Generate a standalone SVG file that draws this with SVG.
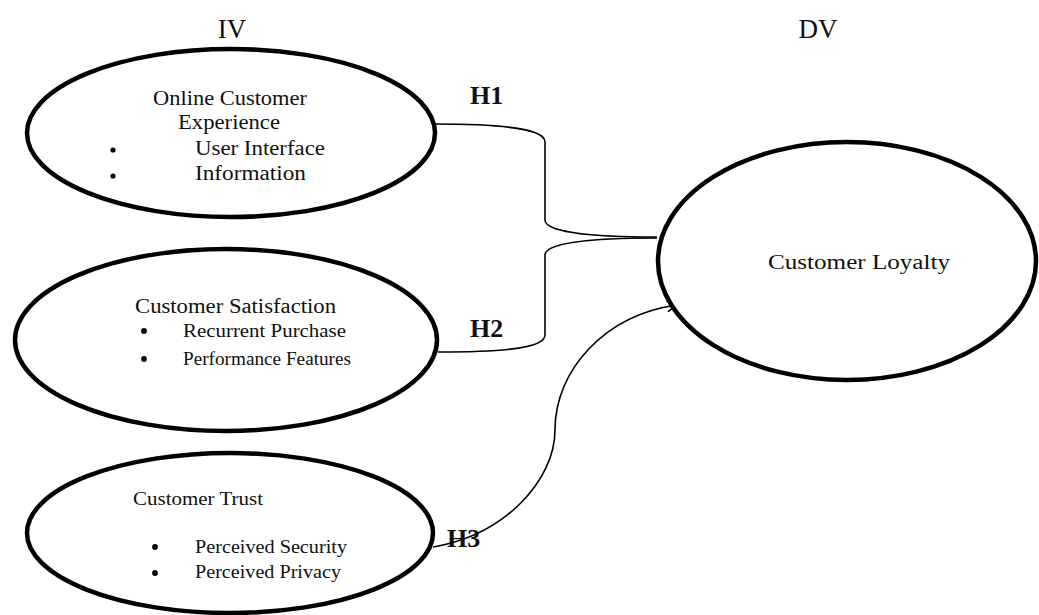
<svg xmlns="http://www.w3.org/2000/svg" width="1039" height="615" viewBox="0 0 1039 615">
<style>
.node{fill:#fff;stroke:#000;stroke-width:4.5}
.conn{fill:none;stroke:#000;stroke-width:1.6}
.dot{fill:#000}
text{font-family:"Liberation Serif","Times New Roman",serif;fill:#111}
.hd{font-size:27px}
.lb{font-size:20.5px}
.sm{font-size:19.5px}
.xs{font-size:18px}
.h{font-size:26px;font-weight:bold}
</style>
<defs>
<marker id="arr" viewBox="0 0 12 12" refX="11" refY="6" markerWidth="12" markerHeight="12" markerUnits="userSpaceOnUse" orient="auto">
<path d="M1,0.5 L11,6 L1,11.5" fill="none" stroke="#000" stroke-width="1.6"/>
</marker>
</defs>
<rect width="1039" height="615" fill="#fff"/>
<text class="hd" x="232" y="38" text-anchor="middle">IV</text>
<text class="hd" x="818" y="38" text-anchor="middle">DV</text>
<g id="connectors">
<path class="conn" d="M434,124 C505,124 545,129 545,142 L545,220 C545,232 590,237 657,237"/>
<path class="conn" d="M438,352 C505,352 545,348 545,335 L545,255 C545,243 590,238 657,238"/>
<path class="conn" d="M433,547 C505,535 555,480 555,430 C555,370 605,315 677,305" marker-end="url(#arr)"/>
<text class="h" x="470" y="104">H1</text>
<text class="h" x="470" y="337">H2</text>
<text class="h" x="447" y="547">H3</text>
</g>
<g id="n1">
<ellipse class="node" cx="231" cy="133" rx="204" ry="84"/>
<text class="lb" x="153" y="105" textLength="154" lengthAdjust="spacingAndGlyphs">Online Customer</text>
<text class="lb" x="178" y="129" textLength="102" lengthAdjust="spacingAndGlyphs">Experience</text>
<circle class="dot" cx="113" cy="150" r="2.6"/>
<text class="lb" x="195" y="155" textLength="130" lengthAdjust="spacingAndGlyphs">User Interface</text>
<circle class="dot" cx="113" cy="176" r="2.6"/>
<text class="lb" x="195" y="180" textLength="111" lengthAdjust="spacingAndGlyphs">Information</text>
</g>
<g id="n2">
<ellipse class="node" cx="226" cy="340" rx="211" ry="91"/>
<text class="lb" x="135" y="313" textLength="201" lengthAdjust="spacingAndGlyphs">Customer Satisfaction</text>
<circle class="dot" cx="144" cy="331" r="2.9"/>
<text class="xs" x="183" y="337" textLength="163" lengthAdjust="spacingAndGlyphs">Recurrent Purchase</text>
<circle class="dot" cx="144" cy="359" r="2.9"/>
<text class="xs" x="183" y="365" textLength="168" lengthAdjust="spacingAndGlyphs">Performance Features</text>
</g>
<g id="n3">
<ellipse class="node" cx="230" cy="533" rx="203" ry="80"/>
<text class="xs" x="133" y="505" textLength="130" lengthAdjust="spacingAndGlyphs">Customer Trust</text>
<circle class="dot" cx="155" cy="547" r="2.9"/>
<text class="sm" x="195" y="553" textLength="152" lengthAdjust="spacingAndGlyphs">Perceived Security</text>
<circle class="dot" cx="155" cy="573" r="2.9"/>
<text class="sm" x="195" y="578" textLength="146" lengthAdjust="spacingAndGlyphs">Perceived Privacy</text>
</g>
<g id="n4">
<ellipse class="node" cx="847" cy="261" rx="189" ry="119"/>
<text class="lb" x="768" y="269" textLength="182" lengthAdjust="spacingAndGlyphs">Customer Loyalty</text>
</g>
</svg>
